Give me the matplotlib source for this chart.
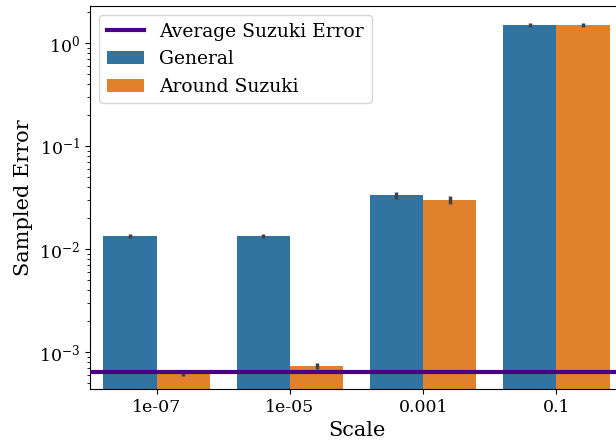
import numpy as np
import matplotlib
matplotlib.use("Agg")
import matplotlib.pyplot as plt

plt.rcParams['font.family'] = ['DejaVu Serif']

# data
scales = ["1e-07", "1e-05", "0.001", "0.1"]
general = [0.0134, 0.0134, 0.0334, 1.50]
general_err = [0.0006, 0.0006, 0.0025, 0.08]
around = [0.000616, 0.000731, 0.0299, 1.50]
around_err = [0.000028, 0.00005, 0.0025, 0.08]
avg_suzuki = 0.000644

blue = "#3274a1"
orange = "#e1812c"
err_c = "#424242"

fig = plt.figure(figsize=(6.16, 4.41), dpi=100)
ax = fig.add_axes([90 / 616, 52 / 441, 533 / 616, 383 / 441])

x = np.arange(len(scales))
w = 0.4
ax.bar(x - w / 2, general, w, color=blue, label="General", zorder=1)
ax.bar(x + w / 2, around, w, color=orange, label="Around Suzuki", zorder=1)
ax.errorbar(x - w / 2, general, yerr=general_err, fmt="none", ecolor=err_c, elinewidth=2.5, zorder=3)
ax.errorbar(x + w / 2, around, yerr=around_err, fmt="none", ecolor=err_c, elinewidth=2.5, zorder=3)
ax.axhline(avg_suzuki, color="indigo", lw=3, label="Average Suzuki Error", zorder=4)

ax.set_yscale("log")
ax.set_ylim(4.37e-4, 2.29)
ax.set_xlim(-0.5, 3.5)
ax.set_xticks(x)
ax.set_xticklabels(scales)
ax.tick_params(labelsize=12.5)
ax.set_xlabel("Scale", fontsize=15)
ax.set_ylabel("Sampled Error", fontsize=15)

h, l = ax.get_legend_handles_labels()
order = [l.index("Average Suzuki Error"), l.index("General"), l.index("Around Suzuki")]
ax.legend([h[i] for i in order], [l[i] for i in order], loc="upper left", fontsize=13.5)

fig.savefig("out.png", dpi=100)
